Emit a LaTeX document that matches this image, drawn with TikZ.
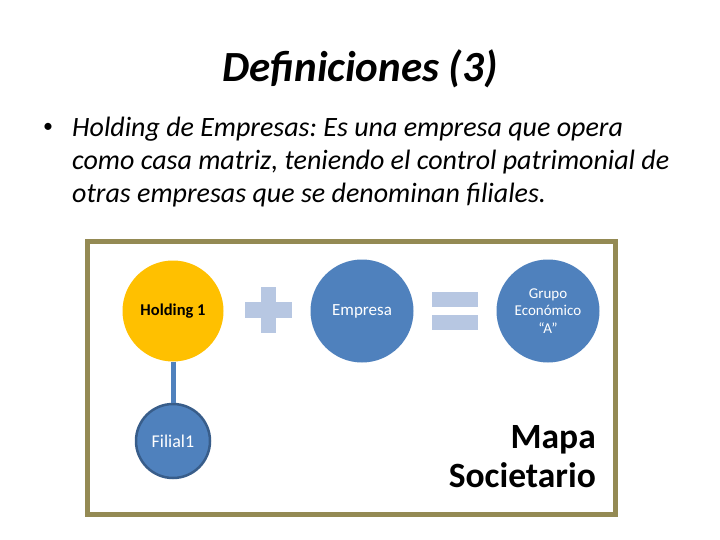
\documentclass[tikz,border=0pt]{standalone}
\usepackage{fontspec}
\setmainfont{Carlito}
\frenchspacing
\definecolor{frameol}{RGB}{148,138,84}
\definecolor{accblue}{RGB}{79,129,189}
\definecolor{darkblue}{RGB}{56,93,138}
\definecolor{gold}{RGB}{255,192,0}
\definecolor{lightop}{RGB}{183,199,226}
\begin{document}
\begin{tikzpicture}[x=1pt,y=-1pt,
  circ/.style={circle,inner sep=0pt,minimum size=#1,align=center},
  bluecirc/.style={circ=#1,fill=accblue},
  opbar/.style={fill=lightop,draw=none},
  bodytext/.style={anchor=base west,inner sep=0pt,font=\fontsize{28}{33}\selectfont\itshape}]
\useasboundingbox (0,0) rectangle (720,540);
\fill[white] (0,0) rectangle (720,540);
% title
\node[anchor=base,font=\fontsize{43}{46}\selectfont\bfseries\itshape] (title) at (360,82) {Definiciones (3)};
% bullet
\node[anchor=center,inner sep=0pt,font=\fontsize{20}{24}\selectfont] (bul) at (48,128) {•};
\node[bodytext] (body) at (72,137) {Holding de Empresas: Es una empresa que opera};
\node[bodytext] (body2) at (72,170) {como casa matriz, teniendo el control patrimonial de};
\node[bodytext] (body3) at (72,203) {otras empresas que se denominan filiales.};
% frame
\draw[frameol,line width=5pt] (87,241) rectangle (615,514);
% circles
\node[circ=101pt,fill=gold,font=\fontsize{16.5}{18}\selectfont\bfseries] (hold) at (173,311) {Holding 1};
\node[bluecirc=74pt,draw=darkblue,line width=2.5pt,text=white,font=\fontsize{18}{20}\selectfont] (fil) at (173,441) {Filial1};
\draw[accblue,line width=5pt] (hold.south) -- (fil.north);
\node[bluecirc=103pt,text=white,font=\fontsize{17}{19}\selectfont] (emp) at (362,311) {Empresa};
\node[bluecirc=103pt,text=white,font=\fontsize{15}{17.5}\selectfont] (grp) at (548,311) {Grupo\\Económico\\“A”};
% plus
\fill[opbar] (245,302) rectangle (292,318);
\fill[opbar] (261,287) rectangle (276,333);
% equals
\fill[opbar] (432,292) rectangle (478,307);
\fill[opbar] (432,315) rectangle (478,330);
% Mapa Societario
\node[anchor=base east,inner sep=0pt,font=\fontsize{35.5}{38}\selectfont\bfseries] (mapa) at (596,448) {Mapa};
\node[anchor=base east,inner sep=0pt,font=\fontsize{35.5}{38}\selectfont\bfseries] (soc) at (596,487) {Societario};
\end{tikzpicture}
\end{document}
